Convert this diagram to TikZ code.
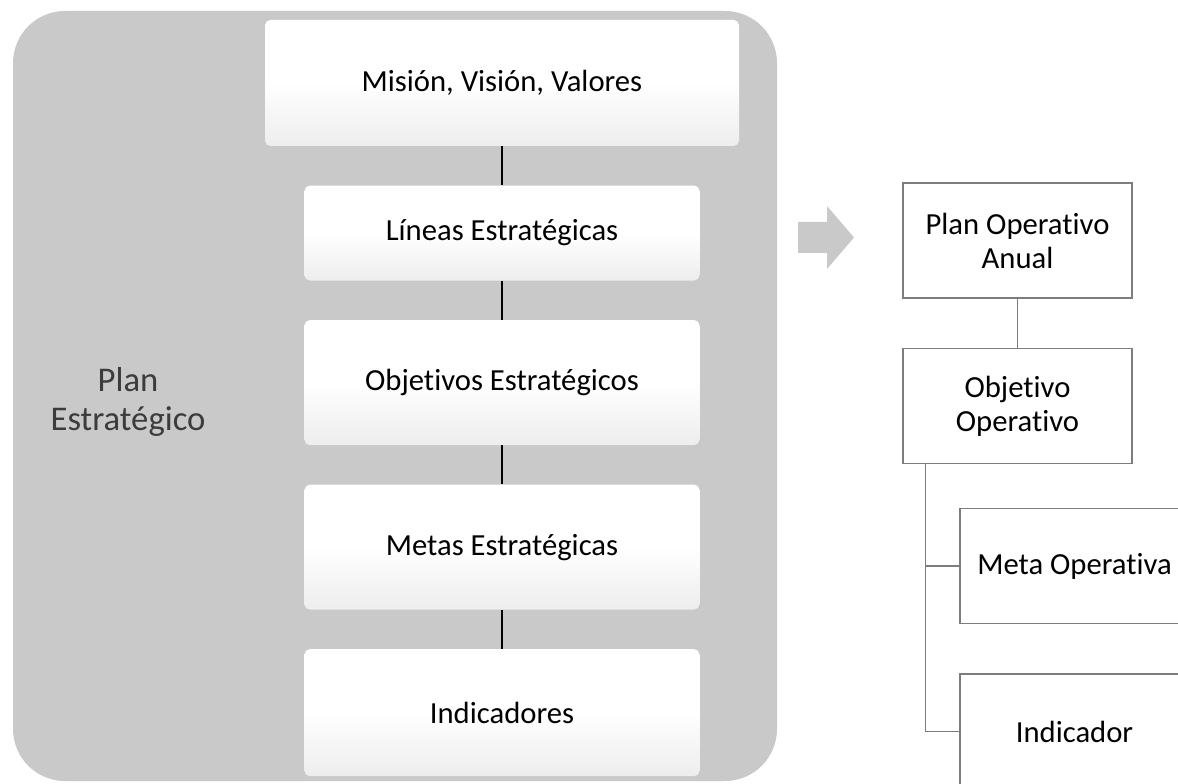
\documentclass[tikz,border=0pt]{standalone}
\usepackage{fontspec}
\setmainfont{Carlito}[Ligatures=NoCommon]
\usetikzlibrary{positioning}
\definecolor{panelgray}{RGB}{201,201,201}
\definecolor{boxline}{RGB}{125,125,125}
\definecolor{labeltext}{RGB}{60,60,60}
\tikzset{
level/.style = {rectangle, rounded corners=4pt, minimum width=296.25pt, minimum height=93.75pt, align=center, inner sep=0pt, font=\fontsize{23}{27}\selectfont, top color=white, bottom color=black!7, middle color=white},
opbox/.style = {rectangle, draw=boxline, line width=1.1pt, fill=white, minimum width=171.75pt, minimum height=86.25pt, align=center, inner sep=0pt, font=\fontsize{23}{25.5}\selectfont},
link/.style = {line width=1pt, black},
branch/.style = {line width=1.1pt, boxline}
}

\begin{document}
\begin{tikzpicture}[x=0.75pt, y=-0.75pt, node distance=29.25pt]
\useasboundingbox (0,0) rectangle (1178,784);
\clip (0,0) rectangle (1178,784);

% strategic plan panel
\fill [panelgray, rounded corners=39pt] (13,11) rectangle (777,781);
\node (plan) [text=labeltext, align=center, font=\fontsize{26}{29.5}\selectfont] at (128,402) {Plan\\Estratégico};

\node (mision) [level, minimum width=355.5pt, minimum height=94.5pt] at (502,83) {Misión, Visión, Valores};
\node (lineas) [level, minimum height=71.25pt, below=of mision] {Líneas Estratégicas};
\node (objetivos) [level, below=of lineas] {Objetivos Estratégicos};
\node (metas) [level, below=of objetivos] {Metas Estratégicas};
\node (indicadores) [level, minimum height=95.25pt, below=of metas] {Indicadores};

\draw [link] (mision) -- (lineas);
\draw [link] (lineas) -- (objetivos);
\draw [link] (objetivos) -- (metas);
\draw [link] (metas) -- (indicadores);

% block arrow
\fill [panelgray] (798,222) -- (827,222) -- (827,206) -- (854,237.5) -- (827,269) -- (827,253) -- (798,253) -- cycle;

% operative plan
\node (poa) [opbox] at (1017.5,240.5) {Plan Operativo\\Anual};
\node (objop) [opbox, below=36.75pt of poa] {Objetivo\\Operativo};
\node (meta) [opbox] at (1074.5,566) {Meta Operativa};
\node (indic) [opbox, below=36.75pt of meta] {Indicador};

\draw [branch] (poa) -- (objop);
\coordinate (trunk) at ([xshift=17.25pt]objop.south west);
\draw [branch] (trunk) |- (meta.west);
\draw [branch] (trunk) |- (indic.west);

\end{tikzpicture}
\end{document}
